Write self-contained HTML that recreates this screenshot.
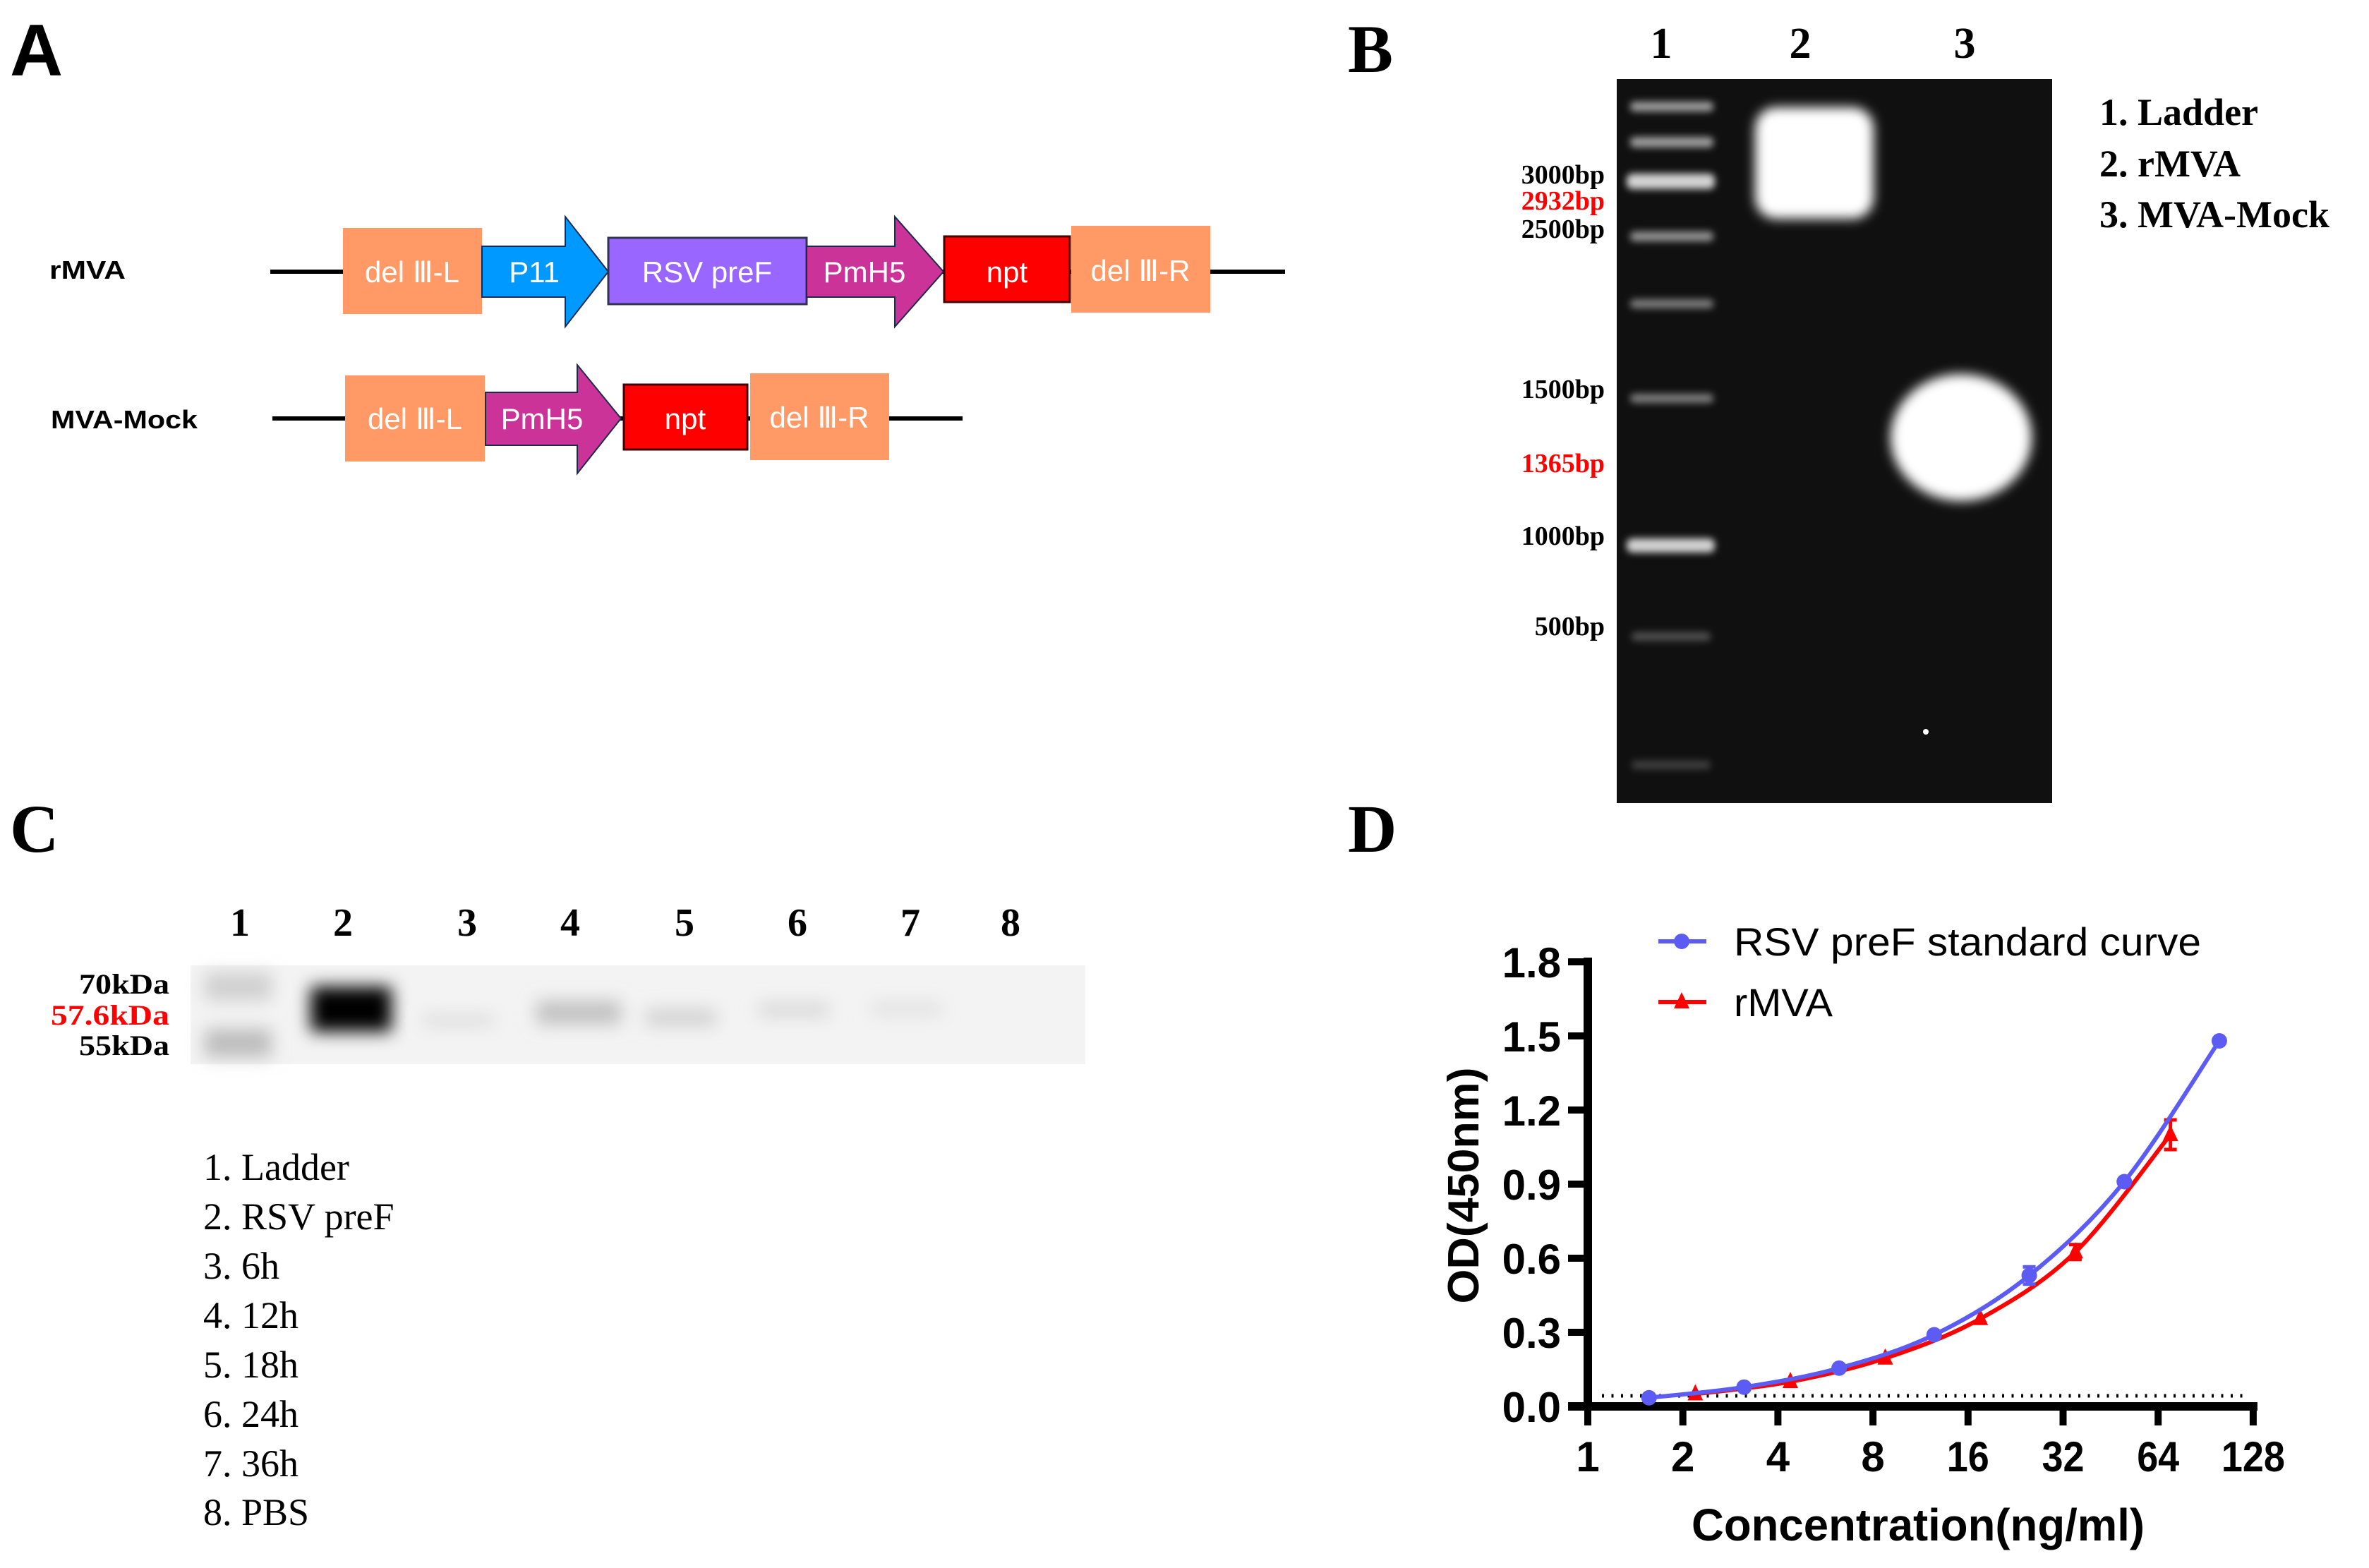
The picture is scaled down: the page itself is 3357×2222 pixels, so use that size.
<!DOCTYPE html>
<html><head><meta charset="utf-8"><style>
html,body{margin:0;padding:0;background:#fff;}
svg{display:block;}
.sans{font-family:"Liberation Sans",Arial,sans-serif;}
.serif{font-family:"Liberation Serif","Times New Roman",serif;}
</style></head><body>
<svg id="fig" width="3357" height="2222" viewBox="0 0 3357 2222" xmlns="http://www.w3.org/2000/svg">
<defs>
<filter id="blur6" x="-50%" y="-50%" width="200%" height="200%"><feGaussianBlur stdDeviation="8"/></filter>
<filter id="blur10" x="-50%" y="-50%" width="200%" height="200%"><feGaussianBlur stdDeviation="12"/></filter>
<filter id="blur4" x="-50%" y="-50%" width="200%" height="200%"><feGaussianBlur stdDeviation="5"/></filter>
</defs>

<!-- Panel A -->
<g>
<text x="14" y="107" class="sans" font-size="104" font-weight="bold">A</text>
<text x="70" y="395" class="sans" font-size="36" font-weight="bold" textLength="108" lengthAdjust="spacingAndGlyphs">rMVA</text>
<line x1="383" y1="385" x2="1821" y2="385" stroke="#000" stroke-width="6"/>
<rect x="486" y="323" width="197" height="122" fill="#FF9966"/>
<polygon points="683,349 801,349 801,307 862,385 801,463 801,421 683,421" fill="#0099FF" stroke="#1a2a50" stroke-width="2"/>
<rect x="862" y="337" width="281" height="94" fill="#9966FF" stroke="#333355" stroke-width="3"/>
<polygon points="1143,349 1268,349 1268,307 1337,385 1268,463 1268,421 1143,421" fill="#CC3399" stroke="#1a2a50" stroke-width="2"/>
<rect x="1338" y="335" width="178" height="93" fill="#FF0000" stroke="#440000" stroke-width="3"/>
<rect x="1518" y="320" width="197" height="123" fill="#FF9966"/>
<g class="sans" font-size="42" fill="#fff" text-anchor="middle">
<text x="584" y="400">del Ⅲ-L</text>
<text x="757" y="400">P11</text>
<text x="1002" y="400">RSV preF</text>
<text x="1225" y="400">PmH5</text>
<text x="1427" y="400">npt</text>
<text x="1616" y="398">del Ⅲ-R</text>
</g>
<text x="72" y="607" class="sans" font-size="36" font-weight="bold" textLength="208" lengthAdjust="spacingAndGlyphs">MVA-Mock</text>
<line x1="386" y1="593" x2="1364" y2="593" stroke="#000" stroke-width="6"/>
<rect x="489" y="532" width="198" height="122" fill="#FF9966"/>
<polygon points="688,556 818,556 818,517 880,593 818,671 818,631 688,631" fill="#CC3399" stroke="#1a2a50" stroke-width="2"/>
<rect x="884" y="545" width="175" height="92" fill="#FF0000" stroke="#440000" stroke-width="3"/>
<rect x="1063" y="529" width="197" height="123" fill="#FF9966"/>
<g class="sans" font-size="42" fill="#fff" text-anchor="middle">
<text x="588" y="608">del Ⅲ-L</text>
<text x="768" y="608">PmH5</text>
<text x="971" y="608">npt</text>
<text x="1161" y="606">del Ⅲ-R</text>
</g>
</g>

<!-- Panel B -->
<g>
<text x="1910" y="102" class="serif" font-size="96" font-weight="bold">B</text>
<g class="serif" font-size="62" font-weight="bold" text-anchor="middle">
<text x="2354" y="82">1</text>
<text x="2551" y="82">2</text>
<text x="2784" y="82">3</text>
</g>
<rect x="2291" y="112" width="617" height="1026" fill="#101010"/>
<g fill="#e8e8e8" filter="url(#blur4)">
<rect x="2310" y="144" width="118" height="14" rx="6" opacity="0.65"/>
<rect x="2310" y="194" width="118" height="15" rx="6" opacity="0.65"/>
<rect x="2305" y="246" width="125" height="22" rx="8" opacity="0.9"/>
<rect x="2310" y="328" width="118" height="14" rx="6" opacity="0.6"/>
<rect x="2310" y="424" width="118" height="13" rx="6" opacity="0.5"/>
<rect x="2310" y="558" width="118" height="13" rx="6" opacity="0.5"/>
<rect x="2305" y="763" width="125" height="20" rx="8" opacity="0.9"/>
<rect x="2312" y="896" width="112" height="12" rx="5" opacity="0.3"/>
<rect x="2312" y="1078" width="112" height="12" rx="5" opacity="0.22"/>
</g>
<g filter="url(#blur6)">
<rect x="2487" y="152" width="168" height="158" rx="30" fill="#fff"/>
<ellipse cx="2779" cy="620" rx="100" ry="90" fill="#fff"/>
</g>
<circle cx="2729" cy="1037" r="4" fill="#fff"/>
<g class="serif" font-size="38" font-weight="bold" text-anchor="end">
<text x="2274" y="260">3000bp</text>
<text x="2274" y="297" fill="#ff0000">2932bp</text>
<text x="2274" y="337">2500bp</text>
<text x="2274" y="564">1500bp</text>
<text x="2274" y="669" fill="#ff0000">1365bp</text>
<text x="2274" y="772">1000bp</text>
<text x="2274" y="900">500bp</text>
</g>
<g class="serif" font-size="54" font-weight="bold">
<text x="2975" y="177">1. Ladder</text>
<text x="2975" y="250">2. rMVA</text>
<text x="2975" y="322">3. MVA-Mock</text>
</g>
</g>

<!-- Panel C -->
<g>
<text x="14" y="1207" class="serif" font-size="96" font-weight="bold">C</text>
<g class="serif" font-size="56" font-weight="bold" text-anchor="middle">
<text x="340" y="1326">1</text>
<text x="486" y="1326">2</text>
<text x="662" y="1326">3</text>
<text x="808" y="1326">4</text>
<text x="970" y="1326">5</text>
<text x="1130" y="1326">6</text>
<text x="1290" y="1326">7</text>
<text x="1432" y="1326">8</text>
</g>
<rect x="270" y="1368" width="1268" height="140" fill="#f3f3f3"/>
<g filter="url(#blur10)">
<rect x="290" y="1378" width="95" height="40" fill="#d0d0d0"/>
<rect x="290" y="1458" width="95" height="40" fill="#bdbdbd"/>
<rect x="440" y="1398" width="115" height="64" fill="#000"/>
<rect x="600" y="1438" width="100" height="16" fill="#dcdcdc"/>
<rect x="760" y="1418" width="120" height="34" fill="#c2c2c2"/>
<rect x="915" y="1430" width="100" height="24" fill="#d2d2d2"/>
<rect x="1075" y="1420" width="100" height="22" fill="#dadada"/>
<rect x="1235" y="1420" width="100" height="20" fill="#e2e2e2"/>
</g>
<g class="serif" font-size="40" font-weight="bold" text-anchor="end">
<text x="240" y="1408" textLength="128" lengthAdjust="spacingAndGlyphs">70kDa</text>
<text x="240" y="1452" fill="#ff0000" textLength="168" lengthAdjust="spacingAndGlyphs">57.6kDa</text>
<text x="240" y="1495" textLength="128" lengthAdjust="spacingAndGlyphs">55kDa</text>
</g>
<g class="serif" font-size="54">
<text x="288" y="1672">1. Ladder</text>
<text x="288" y="1742">2. RSV preF</text>
<text x="288" y="1812">3. 6h</text>
<text x="288" y="1882">4. 12h</text>
<text x="288" y="1952">5. 18h</text>
<text x="288" y="2022">6. 24h</text>
<text x="288" y="2092">7. 36h</text>
<text x="288" y="2161">8. PBS</text>
</g>
</g>

<!-- Panel D -->
<g id="panelD">
<text x="1910" y="1207" class="serif" font-size="96" font-weight="bold">D</text>
</g>
</svg>
<script>
const xTicks = [1, 2, 4, 8, 16, 32, 64, 128];
const xTickLabels = ["1", "2", "4", "8", "16", "32", "64", "128"];
const yTicks = [0, 0.3, 0.6, 0.9, 1.2, 1.5, 1.8];
const yTickLabels = ["0.0", "0.3", "0.6", "0.9", "1.2", "1.5", "1.8"];
const stdConc = [1.5625, 3.125, 6.25, 12.5, 25, 50, 100];
const stdOD = [0.035, 0.078, 0.155, 0.29, 0.53, 0.91, 1.48];
const stdErr = [0, 0, 0, 0, 0.035, 0, 0];
const rmvaConc = [2.19, 4.38, 8.75, 17.5, 35, 70];
const rmvaOD = [0.05, 0.1, 0.195, 0.355, 0.625, 1.1];
const rmvaErr = [0, 0, 0, 0, 0.03, 0.06];
const cutoff = 0.043;

const NS = "http://www.w3.org/2000/svg";
const g = document.getElementById("panelD");
const X0 = 2250, OCT = 134.7, Y0 = 1993, YH = 630;
function xs(c){ return X0 + Math.log2(c) * OCT; }
function ys(v){ return Y0 - v / 1.8 * YH; }
function mk(tag, attrs, parent){
  const e = document.createElementNS(NS, tag);
  for (const k in attrs) e.setAttribute(k, attrs[k]);
  (parent || g).appendChild(e);
  return e;
}
let e;
e = mk("line", {x1: X0, y1: ys(1.8) - 6, x2: X0, y2: Y0 + 6, stroke: "#000", "stroke-width": 12});


e = mk("line", {x1: X0 - 28, y1: Y0, x2: xs(128) + 6, y2: Y0, stroke: "#000", "stroke-width": 12});


yTicks.forEach((v, i) => {
  const t = mk("line", {x1: X0 - 28, y1: ys(v), x2: X0, y2: ys(v), stroke: "#000", "stroke-width": 10});
  
  
  const l = mk("text", {x: 2212, y: ys(v) + 22, "text-anchor": "end", "font-size": 60, "font-weight": "bold", class: "sans"});
  l.textContent = yTickLabels[i];
  
  
});
xTicks.forEach((c, i) => {
  const t = mk("line", {x1: xs(c), y1: Y0, x2: xs(c), y2: 2020, stroke: "#000", "stroke-width": 10});
  
  
  const l = mk("text", {x: xs(c), y: 2085, "text-anchor": "middle", "font-size": 60, "font-weight": "bold", class: "sans"});
  l.textContent = xTickLabels[i];
  if (xTickLabels[i].length > 1) { l.setAttribute("textLength", 30 * xTickLabels[i].length); l.setAttribute("lengthAdjust", "spacingAndGlyphs"); }
  
  
});
e = mk("text", {x: 2718, y: 2183, "text-anchor": "middle", "font-size": 64, "font-weight": "bold", class: "sans", textLength: 642, lengthAdjust: "spacingAndGlyphs"});
e.textContent = "Concentration(ng/ml)";


e = mk("text", {x: 0, y: 0, "text-anchor": "middle", "font-size": 62, "font-weight": "bold", class: "sans", transform: "translate(2095,1680) rotate(-90)", textLength: 335, lengthAdjust: "spacingAndGlyphs"});
e.textContent = "OD(450nm)";


e = mk("line", {x1: 2270, y1: ys(cutoff), x2: 3180, y2: ys(cutoff), stroke: "#000", "stroke-width": 5, "stroke-dasharray": "3 10.5"});



function curvePath(cs, vs){
  const p = cs.map((c, i) => [xs(c), ys(vs[i])]);
  let d = "M" + p[0][0] + "," + p[0][1];
  for (let i = 0; i < p.length - 1; i++){
    const p0 = p[i-1] || p[i], p1 = p[i], p2 = p[i+1], p3 = p[i+2] || p[i+1];
    const c1 = [p1[0] + (p2[0]-p0[0])/6, p1[1] + (p2[1]-p0[1])/6];
    const c2 = [p2[0] - (p3[0]-p1[0])/6, p2[1] - (p3[1]-p1[1])/6];
    d += " C" + c1 + " " + c2 + " " + p2;
  }
  return d;
}
function series(cs, vs, errs, color, shape, name){
  const path = mk("path", {d: curvePath(cs, vs), fill: "none", stroke: color, "stroke-width": 6});
  
  
  cs.forEach((c, i) => {
    const x = xs(c), y = ys(vs[i]);
    if (errs[i] > 0){
      const eb = mk("path", {d: `M${x-9},${ys(vs[i]+errs[i])}H${x+9}M${x},${ys(vs[i]+errs[i])}V${ys(vs[i]-errs[i])}M${x-9},${ys(vs[i]-errs[i])}H${x+9}`, stroke: color, "stroke-width": 5, fill: "none"});
      
      
    }
    let m;
    if (shape === "circle") m = mk("circle", {cx: x, cy: y, r: 11, fill: color});
    else m = mk("polygon", {points: `${x},${y-14} ${x-11},${y+9} ${x+11},${y+9}`, fill: color});
    
    
  });
}
series(rmvaConc, rmvaOD, rmvaErr, "#FF0000", "tri", "rmva");
series(stdConc, stdOD, stdErr, "#5C5CF5", "circle", "standard");

e = mk("line", {x1: 2350, y1: 1334, x2: 2418, y2: 1334, stroke: "#5C5CF5", "stroke-width": 6});


e = mk("circle", {cx: 2383, cy: 1334, r: 11, fill: "#5C5CF5"});


e = mk("text", {x: 2457, y: 1354, "font-size": 56, class: "sans", textLength: 662, lengthAdjust: "spacingAndGlyphs"});
e.textContent = "RSV preF standard curve";


e = mk("line", {x1: 2350, y1: 1420, x2: 2418, y2: 1420, stroke: "#FF0000", "stroke-width": 6});


e = mk("polygon", {points: "2383,1406 2372,1429 2394,1429", fill: "#FF0000"});


e = mk("text", {x: 2457, y: 1440, "font-size": 56, class: "sans", textLength: 140, lengthAdjust: "spacingAndGlyphs"});
e.textContent = "rMVA";


</script>
</body></html>
